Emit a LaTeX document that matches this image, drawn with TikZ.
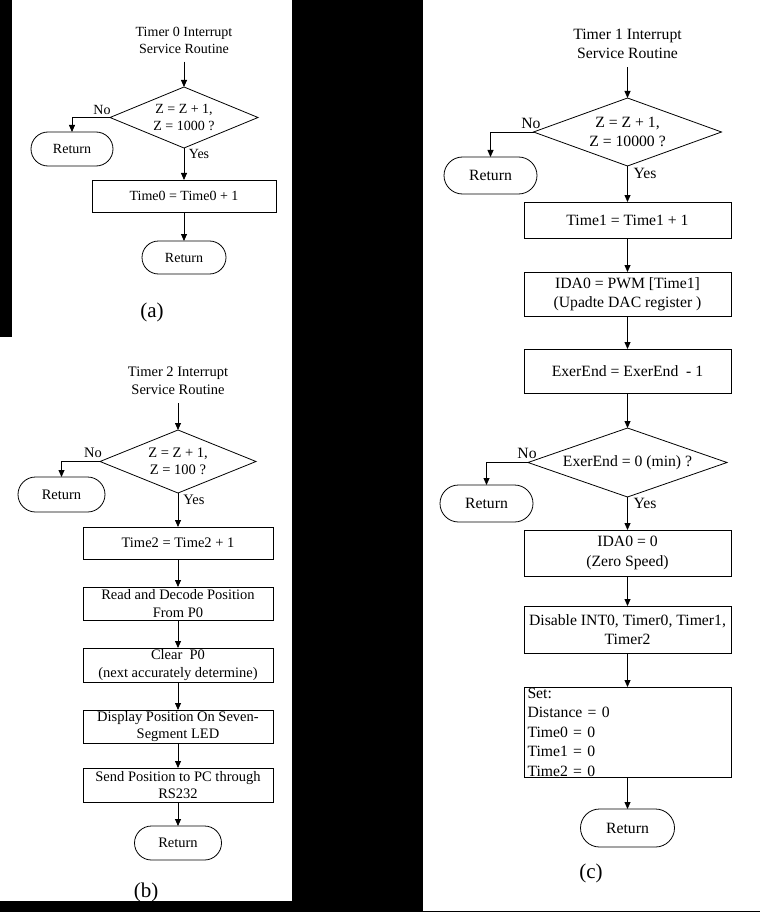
\documentclass[tikz,border=0pt]{standalone}
\usepackage{fontspec}
\setmainfont{Liberation Serif}
\usetikzlibrary{shapes.geometric,shapes.misc,arrows.meta}
\begin{document}
\begin{tikzpicture}[x=1pt, y=-1pt, line width=0.8pt,
  fa/.style={font=\fontsize{14}{17}\selectfont},
  fb/.style={font=\fontsize{14.5}{17.5}\selectfont},
  fc/.style={font=\fontsize{15.7}{19.5}\selectfont},
  ttl/.style={align=center, inner xsep=0pt, inner ysep=8pt},
  procbox/.style={draw, rectangle, align=center, inner sep=0pt, outer sep=0pt},
  decision/.style={draw, diamond, aspect=2.4, align=center, inner sep=0pt, outer sep=0pt},
  terminal/.style={draw, rounded rectangle, inner sep=0pt, outer sep=0pt},
  yesno/.style={inner sep=0pt},
  subcap/.style={font=\fontsize{21}{24}\selectfont},
  flowarrow/.style={-{Triangle[length=7pt, width=6pt]}}]
  \useasboundingbox (0,0) rectangle (760,912);
  % panels
  \fill[black] (0,0) rectangle (760,912);
  \fill[white] (12,0) rectangle (292,337);
  \fill[white] (0,337) rectangle (292,901);
  \fill[white] (423,0) rectangle (760,911);

  % (a) Timer 0
  \begin{scope}[fa, procbox/.append style={minimum width=184pt}]
    \node[ttl] (ttlA) at (184,40) {Timer 0 Interrupt\\Service Routine};
    \node[decision, minimum width=148pt, minimum height=61pt] (decA) at (184,117.5) {Z = Z + 1,\\Z = 1000 ?};
    \node[terminal, minimum width=82pt, minimum height=34pt] (retA1) at (72,149) {Return};
    \node[procbox, minimum height=32pt] (incA) at (184,196) {Time0 = Time0 + 1};
    \node[terminal, minimum width=84pt, minimum height=33pt] (retA2) at (184,257.5) {Return};
    \node[yesno] (noA) at (102,110) {No};
    \node[yesno] (yesA) at (199,154) {Yes};
    \draw[flowarrow] (ttlA.south) -- (decA.north);
    \draw[flowarrow] (decA.west) -| (retA1.north);
    \draw[flowarrow] (decA.south) -- (incA.north);
    \draw[flowarrow] (incA.south) -- (retA2.north);
  \end{scope}
  \node[subcap] (capA) at (152,312) {(a)};

  % (b) Timer 2
  \begin{scope}[fb, procbox/.append style={minimum width=190pt}]
    \node[ttl] (ttlB) at (178,381) {Timer 2 Interrupt\\Service Routine};
    \node[decision, minimum width=156pt, minimum height=63pt] (decB) at (178,461.5) {Z = Z + 1,\\Z = 100 ?};
    \node[terminal, minimum width=87pt, minimum height=35pt] (retB1) at (61.5,494.5) {Return};
    \node[procbox, minimum height=32pt] (incB) at (178,543) {Time2 = Time2 + 1};
    \node[procbox, minimum height=33pt] (readB) at (178,603.5) {Read and Decode Position\\From P0};
    \node[procbox, minimum height=34pt] (clrB) at (178,665) {Clear~ P0\\(next accurately determine)};
    \node[procbox, minimum height=33pt] (dispB) at (178,726.5) {Display Position On Seven-\\Segment LED};
    \node[procbox, minimum height=34pt] (sendB) at (178,785) {Send Position to PC through\\RS232};
    \node[terminal, minimum width=87pt, minimum height=34pt] (retB2) at (178,843) {Return};
    \node[yesno] (noB) at (93,453) {No};
    \node[yesno] (yesB) at (194,500) {Yes};
    \draw[flowarrow] (ttlB.south) -- (decB.north);
    \draw[flowarrow] (decB.west) -| (retB1.north);
    \draw[flowarrow] (decB.south) -- (incB.north);
    \draw[flowarrow] (incB.south) -- (readB.north);
    \draw[flowarrow] (readB.south) -- (clrB.north);
    \draw[flowarrow] (clrB.south) -- (dispB.north);
    \draw[flowarrow] (dispB.south) -- (sendB.north);
    \draw[flowarrow] (sendB.south) -- (retB2.north);
  \end{scope}
  \node[subcap] (capB) at (146,892) {(b)};

  % (c) Timer 1
  \begin{scope}[fc, procbox/.append style={minimum width=207pt}]
    \node[ttl] (ttlC) at (627.5,44) {Timer 1 Interrupt\\Service Routine};
    \node[decision, minimum width=188pt, minimum height=68pt] (decC1) at (627.5,132) {Z = Z + 1,\\Z = 10000 ?};
    \node[terminal, minimum width=93pt, minimum height=37pt] (retC1) at (490.5,175.5) {Return};
    \node[procbox, minimum height=36pt] (incC) at (627.5,220) {Time1 = Time1 + 1};
    \node[procbox, minimum height=44pt] (pwmC) at (627.5,294) {IDA0 = PWM [Time1]\\(Upadte DAC register )};
    \node[procbox, minimum height=44pt] (exerC) at (627.5,371) {ExerEnd = ExerEnd~ - 1};
    \node[decision, minimum width=199pt, minimum height=69pt] (decC2) at (627.5,462.5) {ExerEnd = 0 (min) ?};
    \node[terminal, minimum width=93pt, minimum height=37pt] (retC2) at (486.5,503.5) {Return};
    \node[procbox, minimum height=46pt] (zeroC) at (627.5,553) {IDA0 = 0\\(Zero Speed)};
    \node[procbox, minimum height=47pt] (disC) at (627.5,629.5) {Disable INT0, Timer0, Timer1,\\Timer2};
    \node[procbox, align=left, text width=200pt, inner xsep=3.5pt, minimum height=90pt] (setC) at (627.5,732)
      {Set:\\Distance = 0\\Time0 = 0\\Time1 = 0\\Time2 = 0};
    \node[terminal, minimum width=94pt, minimum height=38pt] (retC3) at (627.5,828) {Return};
    \node[yesno] (noC1) at (531,123) {No};
    \node[yesno] (yesC1) at (645,173) {Yes};
    \node[yesno] (noC2) at (527,453) {No};
    \node[yesno] (yesC2) at (645,503) {Yes};
    \draw[flowarrow] (ttlC.south) -- (decC1.north);
    \draw[flowarrow] (decC1.west) -| (retC1.north);
    \draw[flowarrow] (decC1.south) -- (incC.north);
    \draw[flowarrow] (incC.south) -- (pwmC.north);
    \draw[flowarrow] (pwmC.south) -- (exerC.north);
    \draw[flowarrow] (exerC.south) -- (decC2.north);
    \draw[flowarrow] (decC2.west) -| (retC2.north);
    \draw[flowarrow] (decC2.south) -- (zeroC.north);
    \draw[flowarrow] (zeroC.south) -- (disC.north);
    \draw[flowarrow] (disC.south) -- (setC.north);
    \draw[flowarrow] (setC.south) -- (retC3.north);
  \end{scope}
  \node[subcap] (capC) at (591,873) {(c)};
\end{tikzpicture}
\end{document}
